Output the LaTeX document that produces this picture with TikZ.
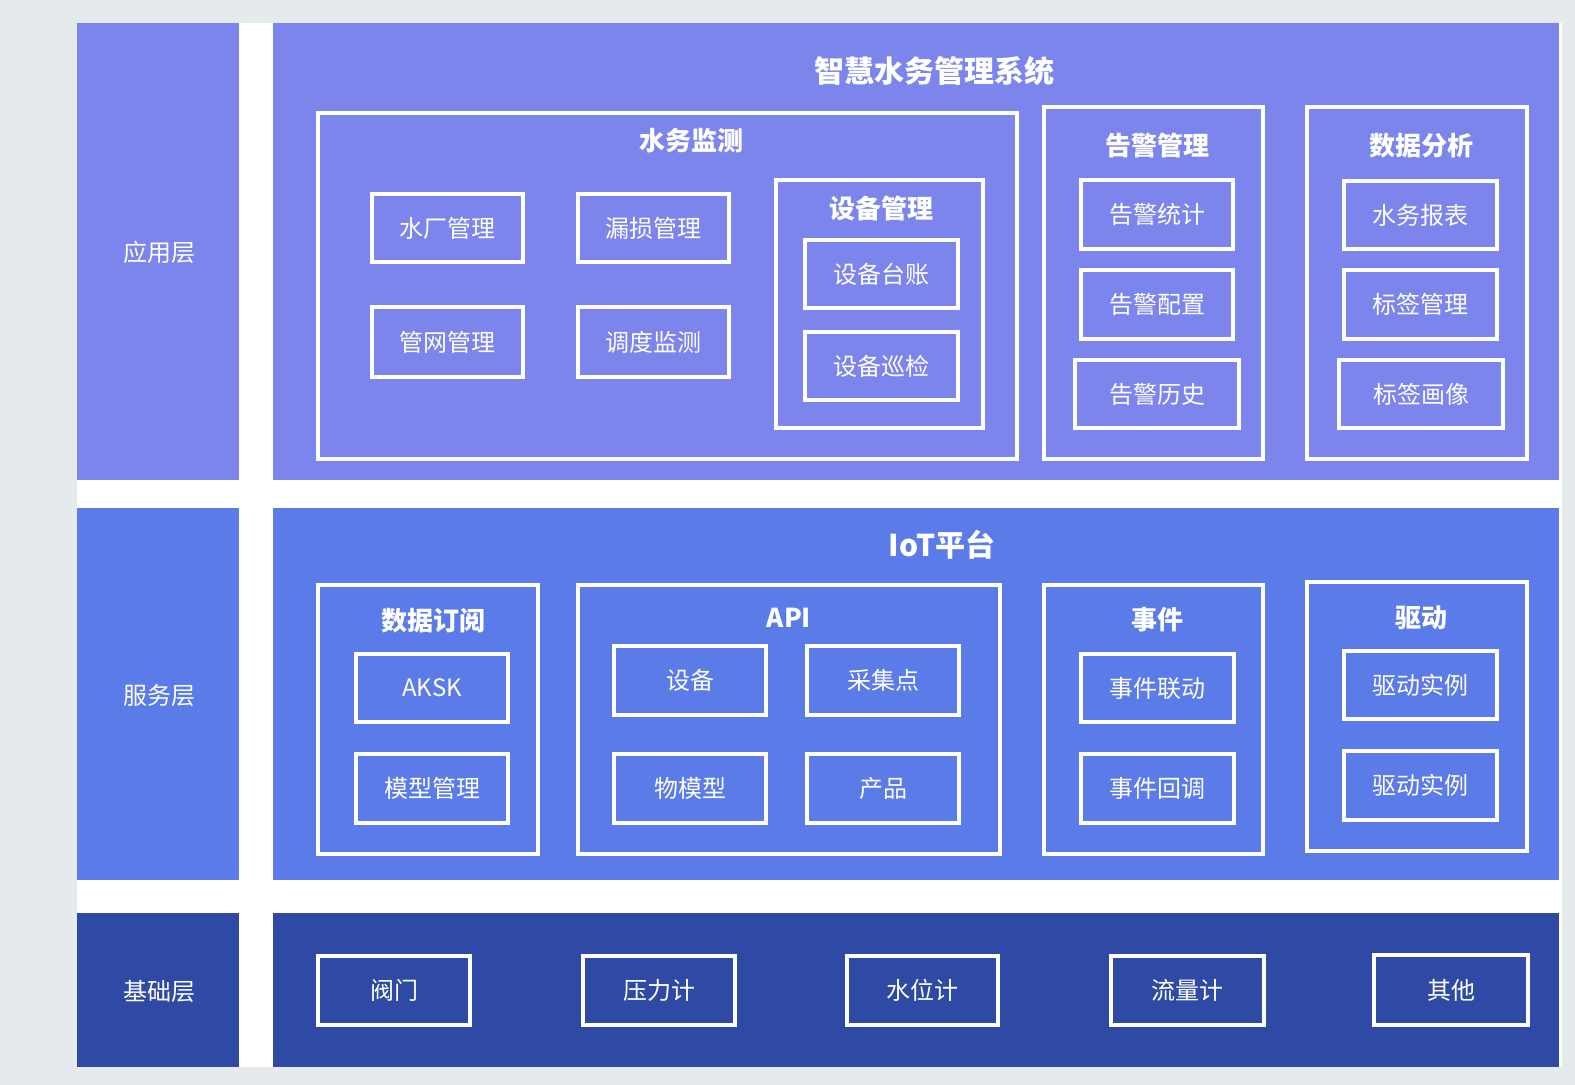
\documentclass[tikz,border=0pt]{standalone}
\usepackage{fontspec}
\newfontfamily\cjk{Noto Sans CJK SC}
\definecolor{bggray}{HTML}{E5EAED}
\definecolor{lay1}{HTML}{7B85EC}
\definecolor{lay2}{HTML}{5A7BE8}
\definecolor{lay3}{HTML}{2F4AA5}
\tikzset{
  panel/.style={draw=none, inner sep=0pt, outer sep=0pt},
  cbox/.style={draw=white, line width=1.6pt, inner sep=0pt, outer sep=0pt},
  ibox/.style={draw=white, line width=1.6pt, inner sep=0pt, outer sep=0pt, text=white, font=\cjk\fontsize{12pt}{14pt}\selectfont},
  ttl/.style={text=white, inner sep=0pt, font=\cjk\bfseries\fontsize{13pt}{15pt}\selectfont},
  bigttl/.style={text=white, inner sep=0pt, font=\cjk\bfseries\fontsize{15pt}{17pt}\selectfont},
  lbl/.style={text=white, inner sep=0pt, font=\cjk\fontsize{12pt}{14pt}\selectfont},
}
\newcommand\bx[7]{\node[#6, minimum width={(#4-#2)*0.5pt}, minimum height={(#5-#3)*0.5pt}] (#1) at ({(#2+#4)/2},{(#3+#5)/2}) {#7};}
\begin{document}
\begin{tikzpicture}[x=0.5pt,y=-0.5pt]
\fill[bggray] (0,0) rectangle (1575,1085);
\useasboundingbox (0,0) rectangle (1575,1085);
\fill[white] (77,23) rectangle (1562,1067);
% layer panels
\bx{l1}{77}{23}{239}{480}{panel,fill=lay1}{}
\bx{p1}{273}{23}{1559}{480}{panel,fill=lay1}{}
\bx{l2}{77}{508}{239}{880}{panel,fill=lay2}{}
\bx{p2}{273}{508}{1559}{880}{panel,fill=lay2}{}
\bx{l3}{77}{913}{239}{1067}{panel,fill=lay3}{}
\bx{p3}{273}{913}{1559}{1067}{panel,fill=lay3}{}
\node[lbl] (t1) at (159,252) {应用层};
\node[lbl] (t2) at (159,695) {服务层};
\node[lbl] (t3) at (159,991) {基础层};
% ---- application layer
\node[bigttl] (sys) at (934,71) {智慧水务管理系统};
\bx{wsjc}{318}{113}{1017}{459}{cbox}{}
\node[ttl] (wsjct) at (691,141) {水务监测};
\bx{a1}{372}{194}{523}{262}{ibox}{水厂管理}
\bx{a2}{578}{194}{729}{262}{ibox}{漏损管理}
\bx{a3}{372}{307}{523}{377}{ibox}{管网管理}
\bx{a4}{578}{307}{729}{377}{ibox}{调度监测}
\bx{sbgl}{776}{180}{983}{428}{cbox}{}
\node[ttl] (sbglt) at (881,209) {设备管理};
\bx{a5}{805}{240}{958}{308}{ibox}{设备台账}
\bx{a6}{805}{332}{958}{400}{ibox}{设备巡检}
\bx{gjgl}{1044}{107}{1263}{459}{cbox}{}
\node[ttl] (gjglt) at (1157,146) {告警管理};
\bx{a7}{1081}{180}{1233}{249}{ibox}{告警统计}
\bx{a8}{1081}{270}{1233}{339}{ibox}{告警配置}
\bx{a9}{1075}{360}{1239}{428}{ibox}{告警历史}
\bx{sjfx}{1307}{107}{1527}{459}{cbox}{}
\node[ttl] (sjfxt) at (1421,146) {数据分析};
\bx{a10}{1344}{181}{1497}{249}{ibox}{水务报表}
\bx{a11}{1344}{270}{1497}{339}{ibox}{标签管理}
\bx{a12}{1339}{360}{1503}{428}{ibox}{标签画像}
% ---- service layer
\node[bigttl] (iot) at (942,545) {IoT平台};
\bx{sjdy}{318}{585}{538}{854}{cbox}{}
\node[ttl] (sjdyt) at (433,621) {数据订阅};
\bx{b1}{356}{654}{508}{722}{ibox}{AKSK}
\bx{b2}{356}{754}{508}{823}{ibox}{模型管理}
\bx{api}{578}{585}{1000}{854}{cbox}{}
\node[ttl] (apit) at (789,618) {API};
\bx{b3}{614}{646}{766}{715}{ibox}{设备}
\bx{b4}{807}{646}{959}{715}{ibox}{采集点}
\bx{b5}{614}{754}{766}{823}{ibox}{物模型}
\bx{b6}{807}{754}{959}{823}{ibox}{产品}
\bx{sj}{1044}{585}{1263}{854}{cbox}{}
\node[ttl] (sjt) at (1157,620) {事件};
\bx{b7}{1081}{654}{1234}{722}{ibox}{事件联动}
\bx{b8}{1081}{754}{1234}{823}{ibox}{事件回调}
\bx{qd}{1307}{582}{1527}{851}{cbox}{}
\node[ttl] (qdt) at (1421,618) {驱动};
\bx{b9}{1344}{651}{1497}{719}{ibox}{驱动实例}
\bx{b10}{1344}{751}{1497}{820}{ibox}{驱动实例}
% ---- base layer
\bx{c1}{318}{956}{470}{1025}{ibox}{阀门}
\bx{c2}{583}{956}{735}{1025}{ibox}{压力计}
\bx{c3}{847}{956}{998}{1025}{ibox}{水位计}
\bx{c4}{1111}{956}{1264}{1025}{ibox}{流量计}
\bx{c5}{1374}{955}{1528}{1025}{ibox}{其他}
\end{tikzpicture}
\end{document}
